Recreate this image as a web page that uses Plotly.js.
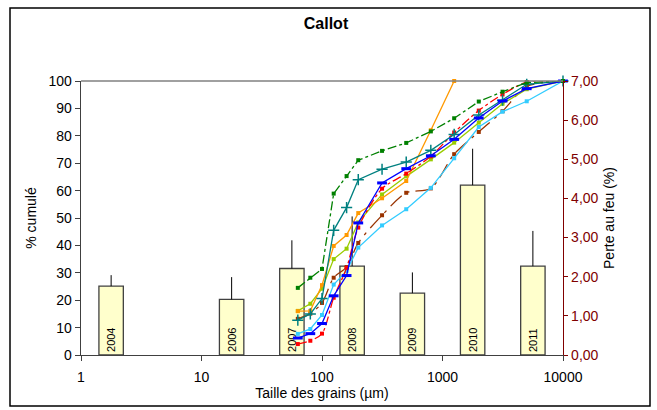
<!DOCTYPE html>
<html>
<head>
<meta charset="utf-8">
<script src="https://cdn.plot.ly/plotly-3.0.1.min.js"></script>
<style>html,body{margin:0;padding:0;background:#fff}</style>
</head>
<body>
<div id="chart" style="width:657px;height:410px"></div>
<script>
// ---- data ----
const sizes = [63, 80, 100, 125, 160, 200, 315, 500, 800, 1250, 2000, 3150, 5000, 10000];
const xTickVals = [1, 10, 100, 1000, 10000];
const xTickText = ["1", "10", "100", "1000", "10000"];

const cumGreen  = [24.5, 28.2, 31.4, 58.9, 65.3, 71.1, 74.5, 77.4, 81.6, 86.4, 92.5, 96.1, 99.4, 100];
const cumTeal   = [12.7, 15.0, 20.6, 45.5, 53.8, 64.0, 67.8, 70.4, 74.7, 80.5, 87.6, 93.0, 98.8, 100];
const cumBlue   = [6.2, 7.8, 11.5, 21.6, 29.0, 48.2, 62.8, 68.0, 72.7, 78.7, 86.5, 92.7, 97.2, 100];
const cumRed    = [4.0, 5.2, 7.8, 20.9, 31.8, 46.5, 60.7, 66.2, 72.5, 81.2, 89.2, 95.1, 99.6, 100];
const cumOrange = [16.0, 16.1, 25.5, 39.8, 43.8, 51.8, 57.2, 63.5, 82.0, 100];
const cumYGreen = [16.1, 18.7, 24.2, 35.0, 38.8, 48.4, 58.6, 65.2, 71.4, 77.5, 84.8, 91.7, 97.0, 100];
const cumBrown  = [13.2, 15.1, 19.0, 28.2, 32.1, 40.9, 51.0, 59.2, 60.8, 73.3, 81.4, 89.0, 98.0, 100];
const cumCyan   = [7.7, 9.5, 14.6, 25.7, 30.7, 39.2, 47.3, 53.2, 61.0, 71.8, 83.2, 88.8, 92.6, 100];

const years     = [2004, 2006, 2007, 2008, 2009, 2010, 2011];
const perteFeu  = [1.76, 1.42, 2.21, 2.27, 1.58, 4.34, 2.27];
const perteErr  = [0.28, 0.57, 0.72, 1.27, 0.53, 0.93, 0.90];

// ---- traces ----
const barTrace = {
  type: 'bar',
  x: years.map(y => y - 2004),
  y: perteFeu,
  xaxis: 'x', yaxis: 'y',
  width: 0.405,
  marker: {color: '#FFFFCC', line: {color: '#404040', width: 1.3}},
  error_y: {type: 'data', symmetric: false, array: perteErr, arrayminus: perteErr.map(() => 0),
            color: '#000000', thickness: 1, width: 0},
  text: years.map(String),
  textposition: 'inside',
  insidetextanchor: 'start',
  textangle: -90,
  constraintext: 'none',
  textfont: {size: 11, color: '#000000', family: 'Liberation Sans, Arial, sans-serif'},
  hoverinfo: 'skip'
};

function line(yvals, color, dash, marker, shape) {
  return {
    type: 'scatter', mode: 'lines+markers',
    x: sizes.slice(0, yvals.length), y: yvals,
    xaxis: 'x2', yaxis: 'y2',
    line: {color: color, width: 1.3, dash: dash, shape: shape || 'linear', smoothing: 0.8},
    marker: marker,
    cliponaxis: false
  };
}

const traces = [
  barTrace,
  line(cumBrown, '#993300', 'longdashdot', {symbol: 'square', size: 4, color: '#993300'}, 'spline'),
  line(cumCyan, '#33CCFF', 'solid', {symbol: 'square', size: 4, color: '#33CCFF'}),
  line(cumYGreen, '#99CC00', 'solid', {symbol: 'square', size: 4, color: '#99CC00'}),
  line(cumOrange, '#FF9900', 'solid', {symbol: 'square', size: 4, color: '#FF9900'}),
  line(cumRed, '#FF0000', 'dashdot', {symbol: 'square', size: 4, color: '#FF0000'}, 'spline'),
  line(cumTeal, '#008080', 'solid', {symbol: 'cross-thin', size: 8, line: {color: '#008080', width: 1.5}}),
  line(cumBlue, '#0000FF', 'solid', {symbol: 'line-ew', size: 7, line: {color: '#0000FF', width: 3}}),
  line(cumGreen, '#008000', 'dashdot', {symbol: 'square', size: 4, color: '#008000'})
];

const PL = 81, PR = 563, PT = 81, PB = 355;
const pw = PR - PL, ph = PB - PT;
const px = v => (v - PL) / pw;
const py = v => (PB - v) / ph;

const layout = {
  width: 657, height: 410,
  margin: {l: PL, r: 657 - PR, t: PT, b: 410 - PB, pad: 0},
  paper_bgcolor: '#ffffff', plot_bgcolor: 'rgba(0,0,0,0)',
  showlegend: false,
  separators: ', ',
  font: {family: 'Liberation Sans, Arial, sans-serif', size: 14, color: '#000000'},
  title: {text: '<b>Callot</b>', x: 326 / 657, xanchor: 'center', y: 1 - 23 / 410, yanchor: 'middle',
          font: {size: 16, color: '#000000'}},
  bargap: 0,
  xaxis: {range: [-0.5, 7.5], visible: false, fixedrange: true},
  yaxis: {range: [0, 7], side: 'right', anchor: 'x', tick0: 0, dtick: 1, tickformat: '.2f',
          ticks: 'outside', ticklen: 4, tickcolor: '#800000', tickwidth: 1,
          showline: true, linecolor: '#800000', linewidth: 1.3,
          tickfont: {color: '#800000', size: 14},
          showgrid: false, zeroline: false,
          title: {text: 'Perte au feu (%)', font: {size: 14, color: '#000000'}, standoff: 6}},
  xaxis2: {type: 'log', overlaying: 'x', anchor: 'y2', side: 'bottom', range: [0, 4],
           tickmode: 'array', tickvals: xTickVals, ticktext: xTickText,
           ticks: 'outside', ticklen: 5, tickcolor: '#404040',
           showline: true, linecolor: '#404040', linewidth: 1.3,
           showgrid: false, zeroline: false, ticklabelstandoff: 4,
           tickfont: {size: 14},
           title: {text: 'Taille des grains (µm)', font: {size: 14}, standoff: 2}},
  yaxis2: {overlaying: 'y', anchor: 'x2', side: 'left', range: [0, 100], tick0: 0, dtick: 10,
           ticks: 'outside', ticklen: 5, tickcolor: '#404040',
           showline: true, linecolor: '#404040', linewidth: 1.3,
           showgrid: false, zeroline: false, tickfont: {size: 14},
           title: {text: '% cumulé', font: {size: 14}, standoff: 8}},
  shapes: [
    {type: 'line', xref: 'paper', yref: 'paper', x0: 0, x1: 1, y0: 1, y1: 1,
     line: {color: '#808080', width: 1.3}},
    {type: 'rect', xref: 'paper', yref: 'paper', x0: px(10), x1: px(650), y0: py(406), y1: py(8),
     line: {color: '#000000', width: 1.5}, fillcolor: 'rgba(0,0,0,0)', layer: 'below'}
  ]
};

Plotly.newPlot('chart', traces, layout, {staticPlot: true, displayModeBar: false});
</script>
</body>
</html>
